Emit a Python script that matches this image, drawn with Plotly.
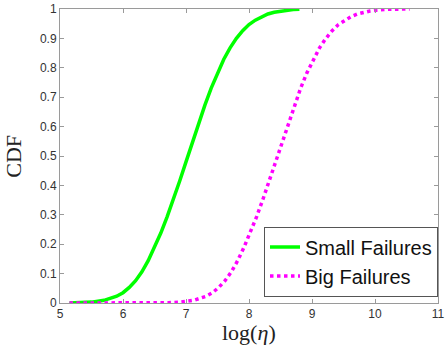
import plotly.graph_objects as go

small_x = [5.15, 5.3, 5.5, 5.7, 5.9, 6.0, 6.1, 6.2, 6.3, 6.4, 6.5, 6.6, 6.7, 6.8, 6.9, 7.0, 7.1, 7.2, 7.3, 7.4,
           7.5, 7.6, 7.7, 7.8, 7.9, 8.0, 8.1, 8.2, 8.3, 8.4, 8.5, 8.6, 8.7, 8.8]
small_y = [0.000, 0.001, 0.003, 0.009, 0.023, 0.035, 0.053, 0.076, 0.106, 0.144, 0.189, 0.238, 0.293, 0.352,
           0.415, 0.480, 0.546, 0.611, 0.673, 0.731, 0.783, 0.829, 0.868, 0.900, 0.926, 0.947, 0.962, 0.974,
           0.983, 0.989, 0.993, 0.996, 0.998, 0.999]

big_x = [5.15, 5.5, 6.0, 6.3, 6.57, 6.72, 6.92, 7.12, 7.32, 7.42, 7.52, 7.62, 7.72, 7.82, 7.92, 8.02, 8.12,
         8.22, 8.32, 8.42, 8.52, 8.62, 8.72, 8.82, 8.92, 9.02, 9.12, 9.22, 9.32, 9.42, 9.52, 9.62, 9.72, 9.82,
         9.92, 10.02, 10.12, 10.22, 10.55]
big_y = [0.000, 0.000, 0.000, 0.000, 0.000, 0.001, 0.003, 0.009, 0.023, 0.035, 0.053, 0.076, 0.106, 0.144,
         0.189, 0.238, 0.293, 0.352, 0.415, 0.480, 0.546, 0.611, 0.673, 0.731, 0.783, 0.829, 0.868, 0.900,
         0.926, 0.947, 0.962, 0.974, 0.983, 0.989, 0.993, 0.996, 0.998, 0.999, 1.000]

x_ticks = [5, 6, 7, 8, 9, 10, 11]
y_ticks = [0, 0.1, 0.2, 0.3, 0.4, 0.5, 0.6, 0.7, 0.8, 0.9, 1]
y_labels = ["0", "0.1", "0.2", "0.3", "0.4", "0.5", "0.6", "0.7", "0.8", "0.9", "1"]

fig = go.Figure()
fig.add_trace(go.Scatter(x=small_x, y=small_y, mode="lines", name="Small Failures",
                         line=dict(color="#00ff00", width=3.5)))
fig.add_trace(go.Scatter(x=big_x, y=big_y, mode="lines", name="Big Failures",
                         line=dict(color="#ff00ff", width=3.5, dash="dot")))

axis_common = dict(showline=True, linecolor="#9a9a9a", linewidth=1, mirror="ticks", automargin=False,
                   ticks="inside", ticklen=4, tickcolor="#9a9a9a", showgrid=False, zeroline=False,
                   tickfont=dict(family="Liberation Sans, Arial", size=12, color="#333333"))

title_font = dict(family="Liberation Serif, Times New Roman", size=22, color="#222")

fig.update_layout(
    width=445, height=347,
    margin=dict(l=60, r=7, t=9, b=44),
    paper_bgcolor="white", plot_bgcolor="white",
    xaxis=dict(range=[5, 11], tickvals=x_ticks, **axis_common),
    yaxis=dict(range=[0, 1], tickvals=y_ticks, ticktext=y_labels, **axis_common),
    legend=dict(x=1, y=0.022, xanchor="right", yanchor="bottom",
                bgcolor="white", bordercolor="#555", borderwidth=1,
                font=dict(family="Liberation Sans, Arial", size=20, color="#111"),
                tracegroupgap=0, itemwidth=30),
    showlegend=True,
    annotations=[
        dict(text="log(<i>η</i>)", xref="paper", yref="paper", x=0.5, y=-0.1, xanchor="center",
             yanchor="middle", showarrow=False, font=title_font),
        dict(text="CDF", xref="paper", yref="paper", x=-0.125, y=0.5, xanchor="center",
             yanchor="middle", showarrow=False, textangle=-90, font=title_font),
    ],
)

fig.write_html("out.html")
